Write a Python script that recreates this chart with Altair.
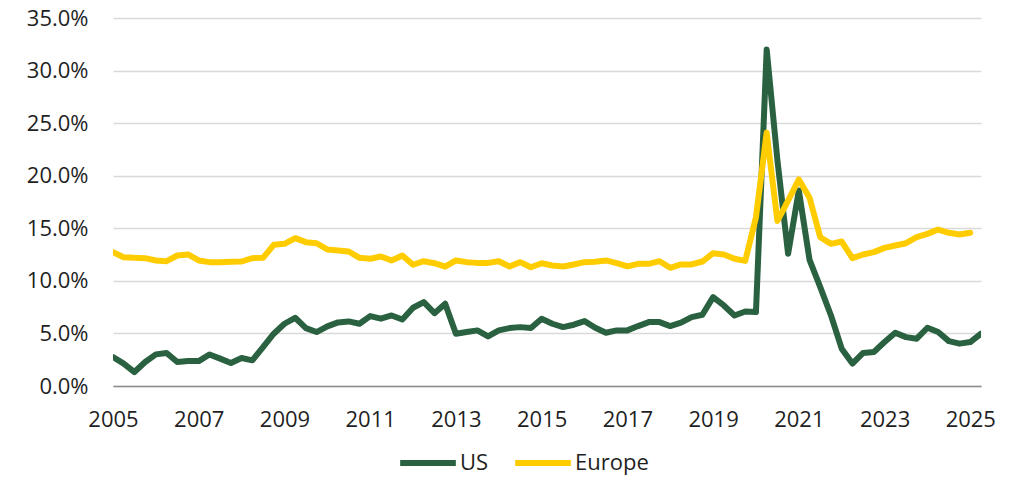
import altair as alt
import pandas as pd

# Quarterly series, starting 2005 Q1 (values in %)
us_values = [
    2.75, 2.13, 1.33, 2.28, 3.01, 3.14, 2.28, 2.37, 2.37, 3.00,
    2.60, 2.19, 2.66, 2.44, 3.70, 4.97, 5.92, 6.49, 5.51, 5.13,
    5.67, 6.05, 6.14, 5.92, 6.65, 6.40, 6.71, 6.33, 7.44, 7.98,
    6.93, 7.82, 4.97, 5.13, 5.29, 4.72, 5.29, 5.51, 5.60, 5.51,
    6.40, 5.92, 5.60, 5.83, 6.17, 5.54, 5.07, 5.29, 5.29, 5.70,
    6.08, 6.08, 5.70, 6.02, 6.55, 6.78, 8.45, 7.66, 6.71, 7.09,
    7.03, 32.00, 21.50, 12.57, 18.60, 12.00, 9.40, 6.71, 3.55, 2.13,
    3.14, 3.23, 4.18, 5.07, 4.65, 4.50, 5.54, 5.13, 4.27, 4.03,
    4.18, 4.97,
]
europe_values = [
    12.73, 12.25, 12.19, 12.16, 11.94, 11.87, 12.41, 12.51, 11.94, 11.78,
    11.78, 11.81, 11.84, 12.16, 12.19, 13.43, 13.52, 14.06, 13.68, 13.58,
    12.98, 12.89, 12.79, 12.19, 12.10, 12.32, 11.94, 12.41, 11.53, 11.87,
    11.68, 11.35, 11.94, 11.78, 11.71, 11.71, 11.87, 11.37, 11.78, 11.30,
    11.68, 11.46, 11.37, 11.56, 11.78, 11.81, 11.94, 11.68, 11.37, 11.62,
    11.62, 11.87, 11.24, 11.56, 11.56, 11.84, 12.63, 12.51, 12.10, 11.90,
    16.05, 24.10, 15.70, 17.64, 19.65, 17.90, 14.15, 13.52, 13.74, 12.16,
    12.51, 12.73, 13.14, 13.36, 13.58, 14.15, 14.47, 14.88, 14.57, 14.41,
    14.57,
]
series_names = ["US", "Europe"]
series_colors = ["#2A6140", "#FFCC00"]
start_year = 2005
x_tick_years = [2005, 2007, 2009, 2011, 2013, 2015, 2017, 2019, 2021, 2023, 2025]
y_ticks = [0, 0.05, 0.10, 0.15, 0.20, 0.25, 0.30, 0.35]

rows = []
for name, vals in zip(series_names, [us_values, europe_values]):
    for i, v in enumerate(vals):
        rows.append({"series": name, "t": start_year + i / 4, "value": v / 100, "order": i})
df = pd.DataFrame(rows)

FONT = "Open Sans"
FS = 22

chart = (
    alt.Chart(df)
    .mark_line(strokeWidth=6, strokeCap="round", strokeJoin="round", clip=True)
    .encode(
        x=alt.X(
            "t:Q",
            scale=alt.Scale(domain=[2005, 2025.25], nice=False, zero=False),
            axis=alt.Axis(
                values=x_tick_years, format="d", title=None, grid=False, ticks=False,
                labelFontSize=FS, labelFont=FONT, labelColor="#1F1F1F", labelPadding=23,
                labelFlush=False, domainColor="#8C8C8C", domainWidth=1.5,
            ),
        ),
        y=alt.Y(
            "value:Q",
            scale=alt.Scale(domain=[0, 0.35], nice=False),
            axis=alt.Axis(
                values=y_ticks, format=".1%", title=None, ticks=False, domain=False,
                labelFontSize=FS, labelFont=FONT, labelColor="#1F1F1F", labelPadding=25,
                gridColor="#D9D9D9", gridWidth=1.5,
            ),
        ),
        color=alt.Color(
            "series:N",
            scale=alt.Scale(domain=series_names, range=series_colors),
            legend=alt.Legend(
                title=None, orient="none", direction="horizontal",
                legendX=284, legendY=414,
                symbolType="stroke", symbolSize=3100, symbolStrokeWidth=6,
                labelFontSize=FS, labelFont=FONT, labelColor="#1F1F1F",
                labelOffset=1, columnPadding=14,
            ),
        ),
        detail="series:N",
        order="order:Q",
    )
    .properties(
        width=868, height=368,
        autosize=alt.AutoSizeParams(type="none"),
        padding={"left": 105, "top": 10, "right": 25, "bottom": 92},
    )
    .configure_view(stroke=None)
)

chart.save("out.html", embed_options={"renderer": "svg", "actions": False})
